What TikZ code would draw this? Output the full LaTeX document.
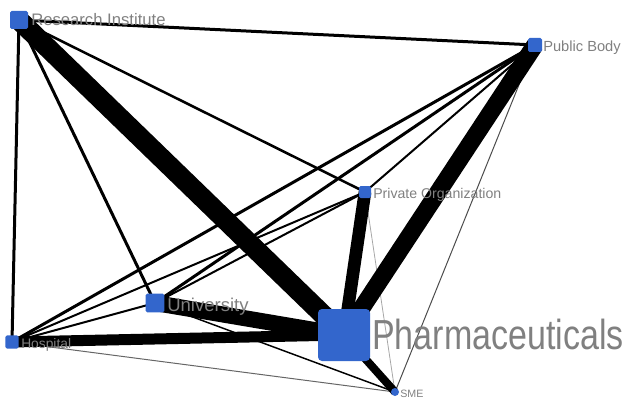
\documentclass[tikz,border=0pt]{standalone}
\usepackage{fontspec}
\setmainfont{Liberation Sans}
\usepackage{graphicx}
\definecolor{nodeblue}{RGB}{51,102,204}
\definecolor{labelgray}{RGB}{128,128,128}
\begin{document}
\begin{tikzpicture}[x=0.75pt,y=-0.75pt,
  org/.style={shape=rectangle, fill=nodeblue, rounded corners=1.2pt, inner sep=0pt, minimum size=#1},
  lbl/.style={anchor=base west, inner sep=0pt, text=labelgray},
  link/.style={line width=#1, line cap=butt}
]
\useasboundingbox (0,0) rectangle (624,403);

% node positions
\coordinate (cRI) at (19,20);
\coordinate (cPB) at (535,45);
\coordinate (cPO) at (365,192);
\coordinate (cUN) at (155,303);
\coordinate (cHO) at (12,342);
\coordinate (cPH) at (344,335);
\coordinate (cSM) at (395,392);

% weak ties
\draw[link=0.75pt, black!70] (cPB) -- (cSM);
\draw[link=0.6pt, black!35] (cPO) -- (cSM);
\draw[link=0.75pt, black!60] (cHO) -- (cSM);
\draw[link=1.1pt] (cUN) -- (cSM);

% medium ties
\draw[link=2.25pt] (cRI) -- (cPB);
\draw[link=2.25pt] (cRI) -- (cHO);
\draw[link=2.25pt] (cRI) -- (cUN);
\draw[link=1.9pt] (cRI) -- (cPO);
\draw[link=2.25pt] (cPB) -- (cHO);
\draw[link=2.25pt] (cPB) -- (cUN);
\draw[link=1.5pt] (cPB) -- (cPO);
\draw[link=1.5pt] (cHO) -- (cPO);
\draw[link=1.5pt] (cHO) -- (cUN);
\draw[link=1.5pt] (cUN) -- (cPO);

% strong ties to Pharmaceuticals
\draw[link=15pt] (cRI) -- (cPH);
\draw[link=13pt] (cPB) -- (cPH);
\draw[link=9.5pt] (cPO) -- (cPH);
\draw[link=12pt] (cUN) -- (cPH);
\draw[link=8.25pt] (cHO) -- (cPH);
\draw[link=6pt] (cPH) -- (cSM);

% organisations
\node[org=13.5pt] (RI) at (cRI) {};
\node[org=10.5pt] (PB) at (cPB) {};
\node[org=9pt] (PO) at (cPO) {};
\node[org=14pt] (UN) at (cUN) {};
\node[org=10pt] (HO) at (cHO) {};
\node[org=39pt, rounded corners=3pt] (PH) at (cPH) {};
\node[shape=circle, fill=nodeblue, inner sep=0pt, minimum size=6pt] (SM) at (cSM) {};

% labels
\node[lbl, font=\fontsize{12.5pt}{14pt}\selectfont] (lRI) at (31,26) {Research Institute};
\node[lbl, font=\fontsize{11pt}{13pt}\selectfont] (lPB) at (543,51) {Public Body};
\node[lbl, font=\fontsize{10.6pt}{12pt}\selectfont] (lPO) at (373,198) {Private Organization};
\node[lbl, font=\fontsize{13.9pt}{16pt}\selectfont] (lUN) at (167,311) {University};
\node[lbl, font=\fontsize{10.35pt}{12pt}\selectfont] (lHO) at (21,348) {Hospital};
\node[lbl, font=\fontsize{8pt}{9pt}\selectfont] (lSM) at (400,397) {SME};
\node[lbl, font=\fontsize{31.5pt}{36pt}\selectfont] (lPH) at (372,349) {\scalebox{0.81}[1]{Pharmaceuticals}};
\end{tikzpicture}
\end{document}
